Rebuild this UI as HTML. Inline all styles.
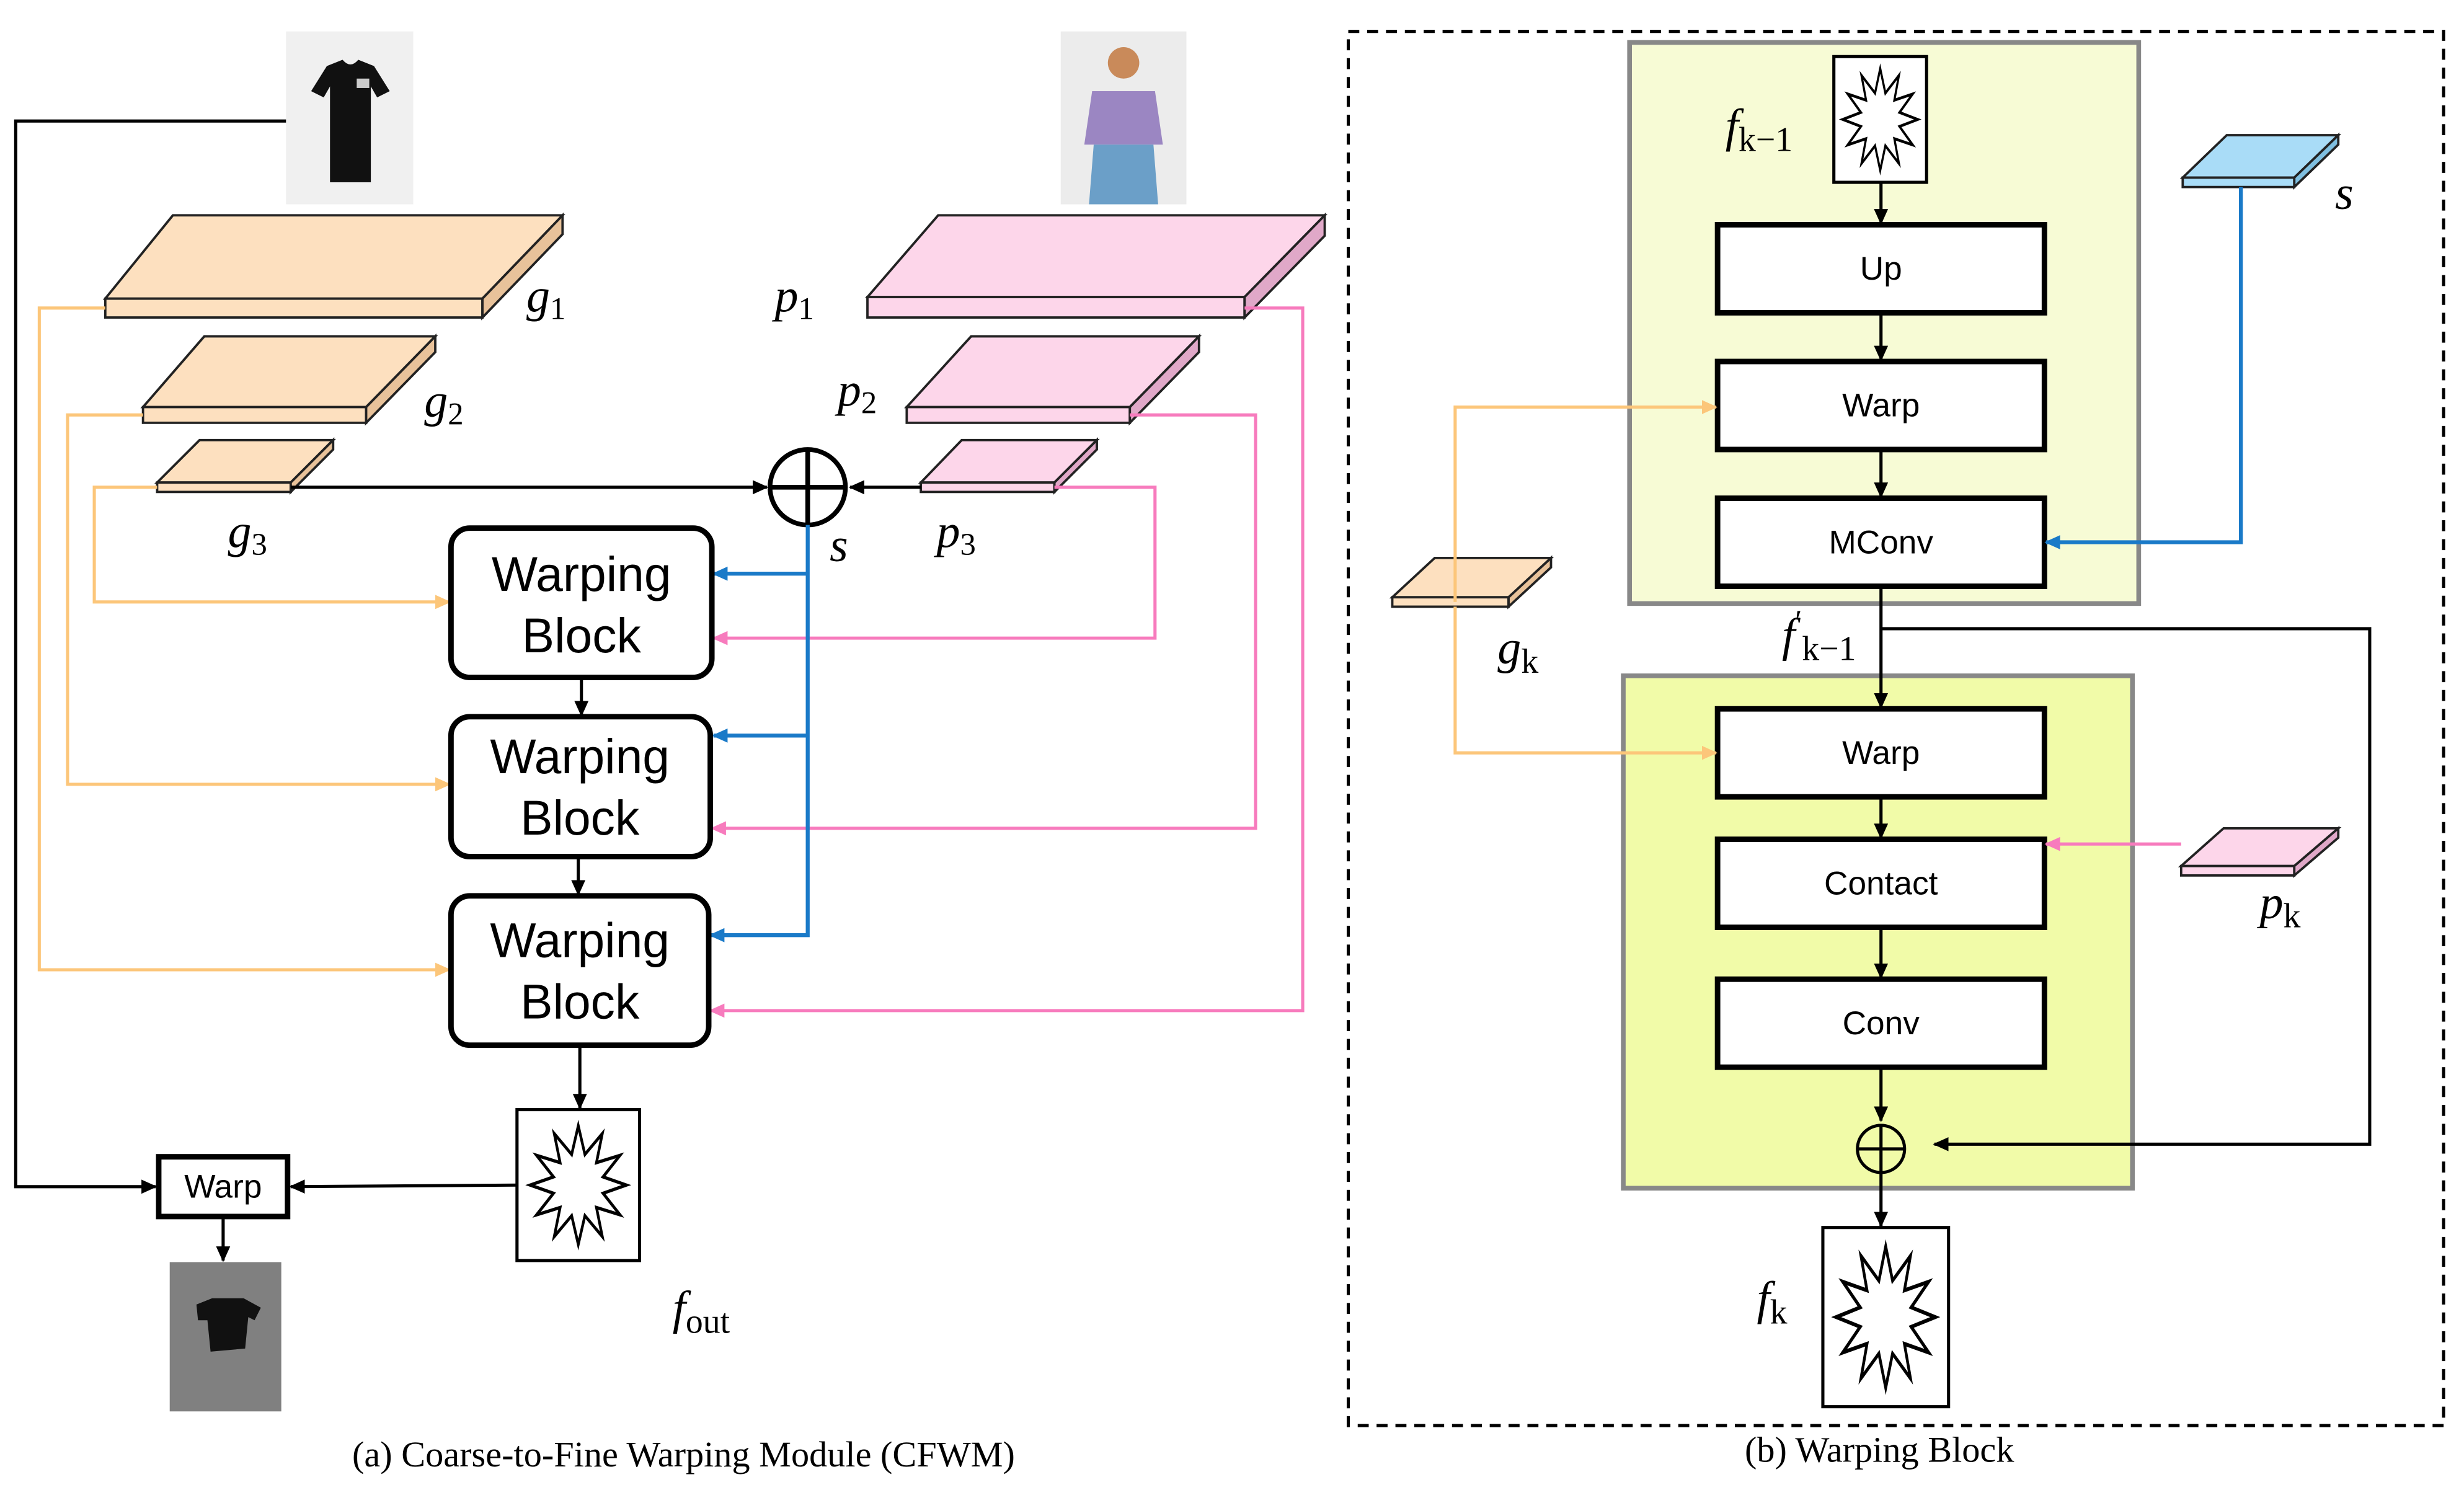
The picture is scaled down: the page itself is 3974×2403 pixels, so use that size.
<!DOCTYPE html>
<html><head><meta charset="utf-8"><style>html,body{margin:0;padding:0;background:#fff}svg{display:block}</style></head>
<body>
<svg xmlns="http://www.w3.org/2000/svg" width="3974" height="2403" viewBox="0 0 1568 948" preserveAspectRatio="none">
<defs>
<marker id="ak" markerWidth="10" markerHeight="10" refX="9" refY="5" orient="auto" markerUnits="userSpaceOnUse"><path d="M0,0.5 L10,5 L0,9.5z" fill="#000"/></marker>
<marker id="ab" markerWidth="10" markerHeight="10" refX="9" refY="5" orient="auto" markerUnits="userSpaceOnUse"><path d="M0,0.5 L10,5 L0,9.5z" fill="#1a7ac8"/></marker>
<marker id="ao" markerWidth="10" markerHeight="10" refX="9" refY="5" orient="auto" markerUnits="userSpaceOnUse"><path d="M0,0.5 L10,5 L0,9.5z" fill="#fcc67a"/></marker>
<marker id="ap" markerWidth="10" markerHeight="10" refX="9" refY="5" orient="auto" markerUnits="userSpaceOnUse"><path d="M0,0.5 L10,5 L0,9.5z" fill="#f77bbd"/></marker>
<symbol id="star" viewBox="0 0 100 100" preserveAspectRatio="none">
<polygon points="95,50 73.2,56.2 89,72.5 67,67 72.5,89 56.2,73.2 50,95 43.8,73.2 27.5,89 33,67 11,72.5 26.8,56.2 5,50 26.8,43.8 11,27.5 33,33 27.5,11 43.8,26.8 50,5 56.2,26.8 72.5,11 67,33 89,27.5 73.2,43.8" fill="none" stroke="#000" stroke-width="2.5"/>
</symbol>
</defs>
<style>
.sl{stroke:#222;stroke-width:1.5}
.o{fill:none;stroke:#fcc67a;stroke-width:2}
.p{fill:none;stroke:#f77bbd;stroke-width:2}
.b{fill:none;stroke:#1a7ac8;stroke-width:2.5}
.k{fill:none;stroke:#000;stroke-width:2}
.lab{font-family:"Liberation Serif",serif;font-style:italic;font-size:30px}
.lab tspan{font-style:normal}
.box{fill:#fff;stroke:#000;stroke-width:3.5}
.bt{font-family:"Liberation Sans",sans-serif;font-size:21px;text-anchor:middle}
.wt{font-family:"Liberation Sans",sans-serif;font-size:31px;text-anchor:middle}
.cap{font-family:"Liberation Serif",serif;font-size:23px;text-anchor:middle}
</style>

<rect x="182" y="20" width="81" height="110" fill="#f0f0f0"/>
<path d="M208,42 L218,38 Q223,44 228,38 L238,42 L248,58 L240,62 L236,55 L236,116 L210,116 L210,55 L206,62 L198,58z" fill="#111"/>
<rect x="227" y="50" width="8" height="6" fill="#ccc"/>
<rect x="675" y="20" width="80" height="110" fill="#ececec"/>
<circle cx="715" cy="40" r="10" fill="#c98a5a"/>
<path d="M695,58 L735,58 L740,92 L690,92z" fill="#9b86c2"/>
<path d="M696,92 L734,92 L737,130 L693,130z" fill="#6b9fc8"/>

<g fill="#fde0bf" class="sl">
<polygon points="67,190 110,137 358,137 307,190"/><rect x="67" y="190" width="240" height="12"/><polygon points="307,190 358,137 358,149 307,202" fill="#e8c29a"/>
<polygon points="91,259 130,214 277,214 233,259"/><rect x="91" y="259" width="142" height="10"/><polygon points="233,259 277,214 277,224 233,269" fill="#e8c29a"/>
<polygon points="100,307 127,280 212,280 185,307"/><rect x="100" y="307" width="85" height="6"/><polygon points="185,307 212,280 212,286 185,313" fill="#e8c29a"/>
<polygon points="886,380 913,355 987,355 960,380"/><rect x="886" y="380" width="74" height="6"/><polygon points="960,380 987,355 987,361 960,386" fill="#e8c29a"/>
</g>
<g fill="#fdd6ea" class="sl">
<polygon points="552,189 597,137 843,137 792,189"/><rect x="552" y="189" width="240" height="13"/><polygon points="792,189 843,137 843,150 792,202" fill="#e0a8c8"/>
<polygon points="577,259 618,214 763,214 719,259"/><rect x="577" y="259" width="142" height="10"/><polygon points="719,259 763,214 763,224 719,269" fill="#e0a8c8"/>
<polygon points="586,307 612,280 698,280 671,307"/><rect x="586" y="307" width="85" height="6"/><polygon points="671,307 698,280 698,286 671,313" fill="#e0a8c8"/>
<polygon points="1388,551 1415,527 1488,527 1460,551"/><rect x="1388" y="551" width="72" height="6"/><polygon points="1460,551 1488,527 1488,533 1460,557" fill="#e0a8c8"/>
</g>
<g fill="#a9dcf7" class="sl">
<polygon points="1389,113 1417,86 1488,86 1460,113"/><rect x="1389" y="113" width="71" height="6"/><polygon points="1460,113 1488,86 1488,92 1460,119" fill="#7fbfe0"/>
</g>

<text class="lab" x="335" y="198">g<tspan font-size="20" dy="5">1</tspan></text>
<text class="lab" x="270" y="265">g<tspan font-size="20" dy="5">2</tspan></text>
<text class="lab" x="145" y="348">g<tspan font-size="20" dy="5">3</tspan></text>
<text class="lab" x="493" y="198">p<tspan font-size="20" dy="5">1</tspan></text>
<text class="lab" x="533" y="258">p<tspan font-size="20" dy="5">2</tspan></text>
<text class="lab" x="596" y="348">p<tspan font-size="20" dy="5">3</tspan></text>
<text class="lab" x="528" y="357">s</text>
<text class="lab" x="428" y="842">f<tspan font-size="22" dy="6">out</tspan></text>

<circle cx="514" cy="310" r="24" fill="#fff" stroke="#000" stroke-width="3"/>
<path d="M490,310 H538 M514,286 V334" stroke="#000" stroke-width="3"/>
<line x1="185" y1="310" x2="488" y2="310" class="k" marker-end="url(#ak)"/>
<line x1="586" y1="310" x2="541" y2="310" class="k" marker-end="url(#ak)"/>

<path class="o" d="M67,196 H25 V617 H286" marker-end="url(#ao)"/>
<path class="o" d="M91,264 H43 V499 H286" marker-end="url(#ao)"/>
<path class="o" d="M100,310 H60 V383 H286" marker-end="url(#ao)"/>
<path class="p" d="M792,196 H829 V643 H452" marker-end="url(#ap)"/>
<path class="p" d="M719,264 H799 V527 H453" marker-end="url(#ap)"/>
<path class="p" d="M671,310 H735 V406 H454" marker-end="url(#ap)"/>
<path class="b" d="M514,334 V595 H452" marker-end="url(#ab)"/>
<path class="b" d="M514,365 H454" marker-end="url(#ab)"/>
<path class="b" d="M514,468 H454" marker-end="url(#ab)"/>

<g fill="#fff" stroke="#000" stroke-width="3.5">
<rect x="287" y="336" width="166" height="95" rx="12"/>
<rect x="287" y="456" width="165" height="89" rx="12"/>
<rect x="287" y="570" width="164" height="95" rx="12"/>
</g>
<text class="wt" x="370" y="376">Warping</text><text class="wt" x="370" y="415">Block</text>
<text class="wt" x="369" y="492">Warping</text><text class="wt" x="369" y="531">Block</text>
<text class="wt" x="369" y="609">Warping</text><text class="wt" x="369" y="648">Block</text>
<line x1="370" y1="431" x2="370" y2="455" class="k" marker-end="url(#ak)"/>
<line x1="368" y1="545" x2="368" y2="569" class="k" marker-end="url(#ak)"/>
<line x1="369" y1="665" x2="369" y2="705" class="k" marker-end="url(#ak)"/>

<rect x="329" y="706" width="78" height="96" fill="#fff" stroke="#000" stroke-width="2"/>
<use href="#star" x="334" y="712" width="68" height="84"/>

<path class="k" d="M182,77 H10 V755 H99" marker-end="url(#ak)"/>
<rect x="101" y="736" width="82" height="38" fill="#fff" stroke="#000" stroke-width="3.5"/>
<text class="bt" x="142" y="762" font-size="18">Warp</text>
<line x1="329" y1="754" x2="185" y2="755" class="k" marker-end="url(#ak)"/>
<line x1="142" y1="774" x2="142" y2="802" class="k" marker-end="url(#ak)"/>
<rect x="108" y="803" width="71" height="95" fill="#808080"/>
<path d="M125,830 L135,826 L155,826 L166,832 L162,840 L158,838 L156,858 L134,860 L132,840 L126,840z" fill="#111"/>

<text class="cap" x="435" y="933">(a) Coarse-to-Fine Warping Module (CFWM)</text>

<rect x="858" y="20" width="697" height="887" fill="none" stroke="#000" stroke-width="2" stroke-dasharray="7,5"/>
<rect x="1037" y="27" width="324" height="357" fill="#f7fbd5" stroke="#888" stroke-width="3"/>
<rect x="1033" y="430" width="324" height="326" fill="#f1fba8" stroke="#888" stroke-width="3"/>

<rect x="1167" y="36" width="59" height="80" fill="#fff" stroke="#000" stroke-width="2"/>
<use href="#star" x="1170" y="40" width="53" height="72"/>
<text class="lab" x="1098" y="90">f<tspan font-size="22" dy="6">k−1</tspan></text>

<g class="box">
<rect x="1093" y="143" width="208" height="56"/>
<rect x="1093" y="230" width="208" height="56"/>
<rect x="1093" y="317" width="208" height="56"/>
<rect x="1093" y="451" width="208" height="56"/>
<rect x="1093" y="534" width="208" height="56"/>
<rect x="1093" y="623" width="208" height="56"/>
</g>
<text class="bt" x="1197" y="178">Up</text>
<text class="bt" x="1197" y="265">Warp</text>
<text class="bt" x="1197" y="352">MConv</text>
<text class="bt" x="1197" y="486">Warp</text>
<text class="bt" x="1197" y="569">Contact</text>
<text class="bt" x="1197" y="658">Conv</text>

<line x1="1197" y1="116" x2="1197" y2="142" class="k" marker-end="url(#ak)"/>
<line x1="1197" y1="199" x2="1197" y2="229" class="k" marker-end="url(#ak)"/>
<line x1="1197" y1="286" x2="1197" y2="316" class="k" marker-end="url(#ak)"/>
<line x1="1197" y1="373" x2="1197" y2="450" class="k" marker-end="url(#ak)"/>
<line x1="1197" y1="507" x2="1197" y2="533" class="k" marker-end="url(#ak)"/>
<line x1="1197" y1="590" x2="1197" y2="622" class="k" marker-end="url(#ak)"/>
<line x1="1197" y1="679" x2="1197" y2="713" class="k" marker-end="url(#ak)"/>
<line x1="1197" y1="746" x2="1197" y2="780" class="k" marker-end="url(#ak)"/>
<path class="k" d="M1197,400 H1508 V728 H1231" marker-end="url(#ak)"/>
<circle cx="1197" cy="731" r="15" fill="none" stroke="#000" stroke-width="2"/>
<path d="M1182,731 H1212 M1197,716 V746" stroke="#000" stroke-width="2"/>

<path class="b" d="M1426,119 V345 H1302" marker-end="url(#ab)"/>
<path class="o" d="M926,383 V259 H1092" marker-end="url(#ao)"/>
<path class="o" d="M926,386 V479 H1092" marker-end="url(#ao)"/>
<path class="p" d="M1388,537 H1302" marker-end="url(#ap)"/>

<text class="lab" x="1486" y="133">s</text>
<text class="lab" x="953" y="422">g<tspan font-size="22" dy="6">k</tspan></text>
<text class="lab" x="1438" y="584">p<tspan font-size="22" dy="6">k</tspan></text>
<text class="lab" x="1134" y="414">f<tspan font-size="20" dy="-12">′</tspan><tspan font-size="22" dy="18">k−1</tspan></text>
<text class="lab" x="1118" y="836">f<tspan font-size="22" dy="6">k</tspan></text>

<rect x="1160" y="781" width="80" height="114" fill="#fff" stroke="#000" stroke-width="2"/>
<use href="#star" x="1165" y="788" width="70" height="100"/>

<text class="cap" x="1196" y="930" font-size="22">(b) Warping Block</text>
</svg>
</body></html>
